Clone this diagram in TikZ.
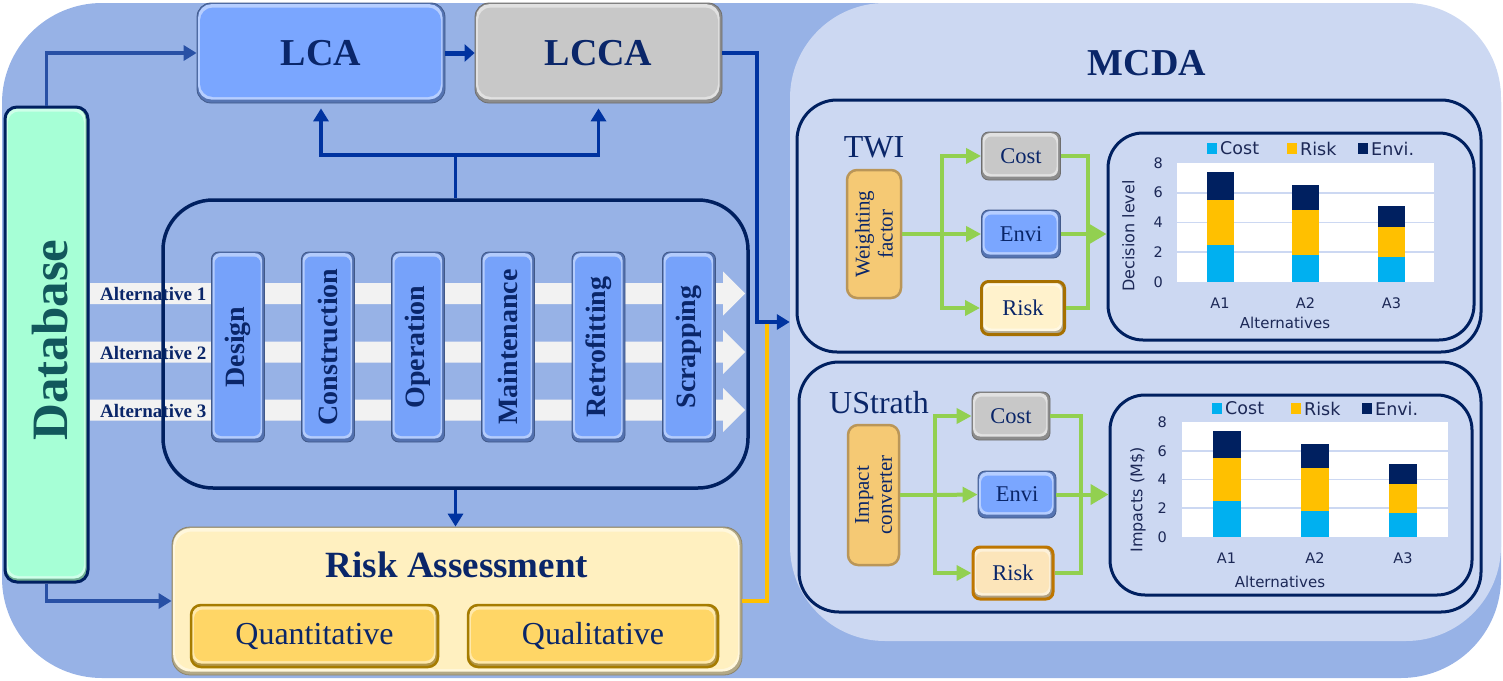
\documentclass[tikz,border=0pt]{standalone}
\usepackage{fontspec}
\setmainfont{Liberation Serif}
\newfontfamily\chartfont{DejaVu Sans}
\usetikzlibrary{arrows.meta,calc}
\newcommand\myfs[2]{\fontsize{#1}{#2}\selectfont}
\definecolor{bgblue}{RGB}{151,178,230}
\definecolor{panelc}{RGB}{204,216,242}
\definecolor{navy}{RGB}{0,32,96}
\definecolor{ntext}{RGB}{10,38,105}
\definecolor{connb}{RGB}{0,51,160}
\definecolor{dbconn}{RGB}{40,80,165}
\definecolor{lcab}{RGB}{122,166,255}
\definecolor{stageb}{RGB}{118,162,250}
\definecolor{lgray}{RGB}{200,200,200}
\definecolor{aqua}{RGB}{166,255,214}
\definecolor{dbtext}{RGB}{18,88,92}
\definecolor{cream}{RGB}{255,240,192}
\definecolor{gold}{RGB}{255,214,102}
\definecolor{goldb}{RGB}{166,124,0}
\definecolor{wfac}{RGB}{245,201,116}
\definecolor{wfacb}{RGB}{186,150,88}
\definecolor{riskc}{RGB}{255,242,204}
\definecolor{riskb}{RGB}{166,112,0}
\definecolor{riskcc}{RGB}{252,229,186}
\definecolor{riskbb}{RGB}{190,118,0}
\definecolor{gr}{RGB}{146,208,80}
\definecolor{ccost}{RGB}{0,176,240}
\definecolor{crisk}{RGB}{255,192,0}
\definecolor{cenvi}{RGB}{0,32,96}
\definecolor{ctext}{RGB}{28,40,86}
\definecolor{bandc}{RGB}{242,242,242}
\definecolor{orangec}{RGB}{255,192,0}
\begin{document}
\begin{tikzpicture}[x=1pt,y=-1pt,
  bevr/.store in=\bevr, bevr=8pt,
  bev/.style={fill=#1!70!black, draw=#1!55!black, line width=0.8pt, inner sep=0pt,
    path picture={
      \fill[#1!55!white, rounded corners=\bevr]
        ([shift={(1.2pt,-1.2pt)}]path picture bounding box.north west) rectangle
        ([shift={(-2.5pt,3.5pt)}]path picture bounding box.south east);
      \fill[#1, rounded corners=\bevr]
        ([shift={(3pt,-4.5pt)}]path picture bounding box.north west) rectangle
        ([shift={(-4pt,6pt)}]path picture bounding box.south east);
    }},
  conn/.style={draw=connb, line width=3.5pt, -{Triangle[length=13pt,width=15pt]}},
  connl/.style={draw=connb, line width=3.5pt},
  dbc/.style={draw=dbconn, line width=3.5pt, -{Triangle[length=13pt,width=15pt]}},
  gl/.style={draw=gr, line width=4pt},
  ga/.style={gl, -{Triangle[length=15pt,width=15pt]}},
  gab/.style={gl, -{Triangle[length=18pt,width=20pt]}},
  bigbox/.style={font=\bfseries\myfs{38}{40}, text=ntext},
  stagebox/.style={bev=stageb, rounded corners=7pt, bevr=7pt, minimum width=53pt, minimum height=190pt},
  stagetxt/.style={rotate=90, font=\bfseries\myfs{28}{30}, text=ntext, inner sep=0pt},
  smallbox/.style={rounded corners=7pt, bevr=7pt, minimum width=79pt, minimum height=48pt, font=\myfs{22.5}{24}, text=ntext},
  panelbox/.style={draw=navy, line width=3pt, rounded corners=40pt, inner sep=0pt},
  chartbox/.style={draw=navy, line width=3pt, rounded corners=35pt, inner sep=0pt},
  alttxt/.style={font=\bfseries\myfs{19}{20}, text=ntext, anchor=west, inner sep=0pt},
  ticklab/.style={font=\chartfont\myfs{14.5}{16}, text=ctext, inner sep=0pt},
  leglab/.style={font=\chartfont\myfs{17.5}{18}, text=ctext, anchor=west, inner sep=0pt},
  axlab/.style={font=\chartfont\myfs{15}{16}, text=ctext, inner sep=0pt},
  labtxt/.style={font=\myfs{32}{34}, text=ntext, inner sep=0pt},
  rottxt/.style={rotate=90, align=center, font=\myfs{21}{23}, text=ntext, inner sep=0pt}
]
\useasboundingbox (0,0) rectangle (1503,680);
% backgrounds
\fill[bgblue, rounded corners=100pt] (2,3) rectangle (1501,678);
\node[fill=panelc, rounded corners=95pt, minimum width=711pt, minimum height=638pt, inner sep=0pt] (mcda) at (1145.5,322) {};

% alternative bands
\foreach \c in {293.5,352,410}
  \fill[bandc] (90,\c-10.5) -- (723,\c-10.5) -- (723,\c-22) -- (745,\c) -- (723,\c+22) -- (723,\c+10.5) -- (90,\c+10.5) -- cycle;
\node[alttxt] (alt1) at (100,294) {Alternative 1};
\node[alttxt] (alt2) at (100,352.5) {Alternative 2};
\node[alttxt] (alt3) at (100,410.5) {Alternative 3};

% stage panel
\node[draw=navy, line width=3.5pt, rounded corners=50pt, minimum width=585pt, minimum height=288pt, inner sep=0pt] (alt) at (455.5,344) {};

% stages
\node[stagebox] (s1) at (238,347) {};
\node[stagebox] (s2) at (328,347) {};
\node[stagebox] (s3) at (418,347) {};
\node[stagebox] (s4) at (508,347) {};
\node[stagebox] (s5) at (598.5,347) {};
\node[stagebox] (s6) at (689,347) {};
\node[stagetxt] (t1) at (s1.center) {Design};
\node[stagetxt] (t2) at (s2.center) {Construction};
\node[stagetxt] (t3) at (s3.center) {Operation};
\node[stagetxt] (t4) at (s4.center) {Maintenance};
\node[stagetxt] (t5) at (s5.center) {Retrofitting};
\node[stagetxt] (t6) at (s6.center) {Scrapping};

% database
\node[bev=aqua, draw=navy, line width=3pt, rounded corners=12pt, bevr=11pt, minimum width=83pt, minimum height=475pt] (db) at (46.5,344.5) {};
\node[rotate=90, font=\bfseries\myfs{51}{53}, text=dbtext, inner sep=0pt] (dbt) at (50,340) {Database};

% LCA, LCCA
\node[bev=lcab, rounded corners=14pt, bevr=13pt, minimum width=248pt, minimum height=100pt, bigbox] (lca) at (321,53) {LCA};
\node[bev=lgray, rounded corners=14pt, bevr=13pt, minimum width=247pt, minimum height=100pt, bigbox] (lcca) at (598.5,53) {LCCA};

% risk assessment
\node[bev=cream, rounded corners=18pt, bevr=17pt, minimum width=570pt, minimum height=148pt] (ra) at (457,601) {};
\node[font=\bfseries\myfs{37}{40}, text=ntext, inner sep=0pt] (ratitle) at (457,565) {Risk Assessment};
\node[bev=gold, draw=goldb, line width=2.5pt, rounded corners=10pt, bevr=9pt, minimum width=247pt, minimum height=62pt, font=\myfs{32}{34}, text=ntext] (quant) at (314.5,636) {Quantitative};
\node[bev=gold, draw=goldb, line width=2.5pt, rounded corners=10pt, bevr=9pt, minimum width=250pt, minimum height=62pt, font=\myfs{32}{34}, text=ntext] (qual) at (593,636) {Qualitative};

% MCDA
\node[bigbox, inner sep=0pt] (mcdat) at (1147,63) {MCDA};

% TWI panel
\node[panelbox, minimum width=684pt, minimum height=252pt] (twi) at (1139,226) {};
\node[labtxt] (twit) at (874,147) {TWI};
\node[fill=wfac, draw=wfacb, line width=2.5pt, rounded corners=10pt, minimum width=54pt, minimum height=128pt, inner sep=0pt] (wf) at (874,234) {};
\node[rottxt] (wft) at (wf.center) {Weighting\\factor};
\node[smallbox, bev=lgray] (cost1) at (1021,156) {Cost};
\node[smallbox, bev=lcab] (envi1) at (1021,234) {Envi};
\node[smallbox, bev=riskc, draw=riskb, line width=3pt, minimum width=83pt, minimum height=53pt] (risk1) at (1023,308) {Risk};
\node[chartbox, minimum width=366pt, minimum height=207pt] (c1) at (1291,236.5) {};

% UStrath panel
\node[panelbox, minimum width=682pt, minimum height=250pt] (ust) at (1140,487) {};
\node[labtxt] (ustt) at (879,403) {UStrath};
\node[fill=wfac, draw=wfacb, line width=2.5pt, rounded corners=10pt, minimum width=51pt, minimum height=140pt, inner sep=0pt] (ic) at (873.5,495) {};
\node[rottxt] (ict) at (ic.center) {Impact\\converter};
\node[smallbox, bev=lgray, minimum width=78pt] (cost2) at (1011,416) {Cost};
\node[smallbox, bev=lcab, minimum width=78pt, minimum height=47pt] (envi2) at (1017,494.5) {Envi};
\node[smallbox, bev=riskcc, draw=riskbb, line width=3pt, minimum width=80pt, minimum height=52pt] (risk2) at (1013,573) {Risk};
\node[chartbox, minimum width=362pt, minimum height=200pt] (c2) at (1291,495) {};

% chart 1
\begin{scope}[shift={(1177,282)}, y=14.9pt]
  \fill[white] (0,0) rectangle (257,8);
  \foreach \v in {2,4,6} \draw[panelc, line width=1.8pt] (0,\v) -- (257,\v);
  \fill[ccost] (29.5,0) rectangle (56.5,2.5);
  \fill[crisk] (29.5,2.5) rectangle (56.5,5.5);
  \fill[cenvi] (29.5,5.5) rectangle (56.5,7.4);
  \fill[ccost] (115,0) rectangle (142,1.8);
  \fill[crisk] (115,1.8) rectangle (142,4.8);
  \fill[cenvi] (115,4.8) rectangle (142,6.5);
  \fill[ccost] (201,0) rectangle (228,1.7);
  \fill[crisk] (201,1.7) rectangle (228,3.7);
  \fill[cenvi] (201,3.7) rectangle (228,5.1);
\end{scope}
\node[ticklab, anchor=east] (ya0) at (1163,282) {0};
\node[ticklab, anchor=east] (ya2) at (1163,252.2) {2};
\node[ticklab, anchor=east] (ya4) at (1163,222.4) {4};
\node[ticklab, anchor=east] (ya6) at (1163,192.6) {6};
\node[ticklab, anchor=east] (ya8) at (1163,162.8) {8};
\node[ticklab] (xa1) at (1220,303) {A1};
\node[ticklab] (xa2) at (1305.5,303) {A2};
\node[ticklab] (xa3) at (1391.5,303) {A3};
\node[axlab] (xat) at (1285,323) {Alternatives};
\node[axlab, rotate=90, font=\chartfont\myfs{16}{17}] (yat) at (1128.5,236) {Decision level};
\fill[ccost] (1207,143) rectangle (1217,154);
\fill[crisk] (1287,143) rectangle (1297,154);
\fill[cenvi] (1358,143) rectangle (1368,154);
\node[leglab] (la1) at (1220,148.5) {Cost};
\node[leglab] (la2) at (1300,148.5) {Risk};
\node[leglab] (la3) at (1371,148.5) {Envi.};

% chart 2
\begin{scope}[shift={(1182,537)}, y=14.375pt]
  \fill[white] (0,0) rectangle (266,8);
  \foreach \v in {2,4,6} \draw[panelc, line width=1.8pt] (0,\v) -- (266,\v);
  \fill[ccost] (31,0) rectangle (58.5,2.5);
  \fill[crisk] (31,2.5) rectangle (58.5,5.5);
  \fill[cenvi] (31,5.5) rectangle (58.5,7.4);
  \fill[ccost] (119,0) rectangle (147,1.8);
  \fill[crisk] (119,1.8) rectangle (147,4.8);
  \fill[cenvi] (119,4.8) rectangle (147,6.5);
  \fill[ccost] (207,0) rectangle (235,1.7);
  \fill[crisk] (207,1.7) rectangle (235,3.7);
  \fill[cenvi] (207,3.7) rectangle (235,5.1);
\end{scope}
\node[ticklab, anchor=east] (yb0) at (1167,537) {0};
\node[ticklab, anchor=east] (yb2) at (1167,508.25) {2};
\node[ticklab, anchor=east] (yb4) at (1167,479.5) {4};
\node[ticklab, anchor=east] (yb6) at (1167,450.75) {6};
\node[ticklab, anchor=east] (yb8) at (1167,422) {8};
\node[ticklab] (xb1) at (1226.5,558) {A1};
\node[ticklab] (xb2) at (1315,558) {A2};
\node[ticklab] (xb3) at (1403,558) {A3};
\node[axlab] (xbt) at (1280,582) {Alternatives};
\node[axlab, rotate=90, font=\chartfont\myfs{16}{17}] (ybt) at (1138,500) {Impacts (M\$)};
\fill[ccost] (1212,403) rectangle (1222,414);
\fill[crisk] (1291,403) rectangle (1301,414);
\fill[cenvi] (1362,403) rectangle (1372,414);
\node[leglab] (lb1) at (1225,408.5) {Cost};
\node[leglab] (lb2) at (1304,408.5) {Risk};
\node[leglab] (lb3) at (1375,408.5) {Envi.};

% blue connectors
\draw[dbc] (db.north) |- (lca.west);
\draw[draw=connb, line width=5pt, -{Triangle[length=10pt,width=17pt]}] (lca.east) -- (lcca.west);
\coordinate (jn) at (455.5,155);
\draw[connl] (alt.north) -- (jn);
\draw[conn, shorten >=5pt] (jn) -| (lca.south);
\draw[conn, shorten >=5pt] (jn) -| (lcca.south);
\draw[conn] (alt.south) -- (alt.south |- ra.north);
\draw[dbc] (db.south) |- (ra.west);
\coordinate (mi) at (mcda.west);
\draw[draw=orangec, line width=3.5pt] (ra.east) -| ($(mi)+(-23,0)$);
\draw[conn] (lcca.east) -| ($(mi)+(-33,0)$) -- (mi);

% green connectors TWI
\coordinate (g1) at (942,234);
\draw[gl] (wf.east) -- (g1);
\draw[ga] (g1) |- (cost1.west);
\draw[ga] (g1) -- (envi1.west);
\draw[ga] (g1) |- (risk1.west);
\coordinate (g2) at (1088,308);
\draw[gl] (cost1.east) -| (g2) -- (risk1.east);
\draw[gab] (envi1.east) -- (envi1.east -| c1.west);

% green connectors UStrath
\coordinate (g3) at (935,495);
\draw[gl] (ic.east) -- (g3);
\draw[ga] (g3) |- (cost2.west);
\draw[ga] (g3) -- (envi2.west);
\draw[ga] (g3) |- (risk2.west);
\coordinate (g4) at (1081,573);
\draw[gl] (cost2.east) -| (g4) -- (risk2.east);
\draw[gab] (envi2.east) -- (envi2.east -| c2.west);
\end{tikzpicture}
\end{document}
